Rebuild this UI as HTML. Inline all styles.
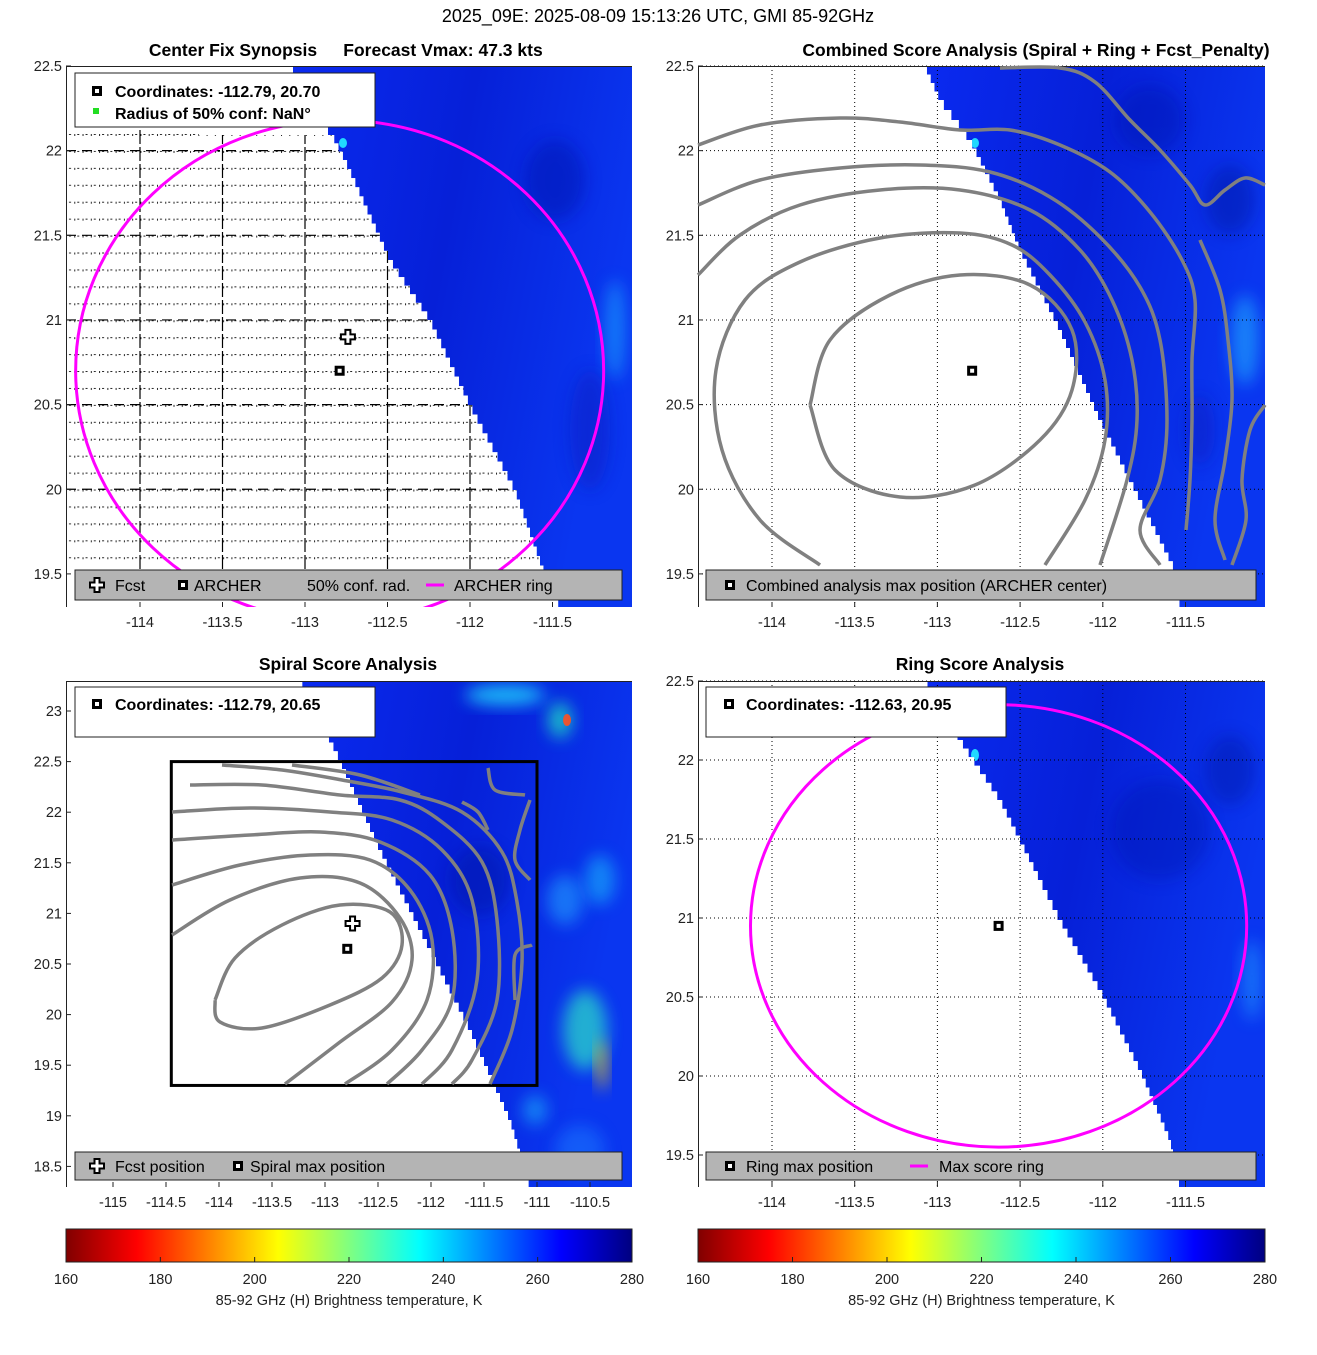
<!DOCTYPE html>
<html><head><meta charset="utf-8"><style>
body{margin:0;background:#fff}
svg text{font-family:"Liberation Sans","DejaVu Sans",sans-serif}
</style></head><body>
<svg id="fig" width="1317" height="1350" viewBox="0 0 1317 1350" xmlns="http://www.w3.org/2000/svg">
<defs>
<linearGradient id="jet" x1="0" x2="1" y1="0" y2="0">
<stop offset="0" stop-color="#800000"/><stop offset="0.125" stop-color="#ff0000"/>
<stop offset="0.375" stop-color="#ffff00"/><stop offset="0.5" stop-color="#80ff80"/><stop offset="0.625" stop-color="#00ffff"/>
<stop offset="0.875" stop-color="#0000ff"/><stop offset="1" stop-color="#000080"/>
</linearGradient>
<linearGradient id="bluefield" x1="0" x2="1" y1="0" y2="0.3">
<stop offset="0" stop-color="#0a2af0"/><stop offset="0.5" stop-color="#0620d8"/><stop offset="1" stop-color="#0a36f0"/>
</linearGradient>
<filter id="blur" x="-50%" y="-50%" width="200%" height="200%"><feGaussianBlur stdDeviation="8"/></filter>
<pattern id="dots" width="8.27" height="16.93" patternUnits="userSpaceOnUse" x="66" y="134">
<rect x="0" y="0" width="1" height="2" fill="#222"/><rect x="3" y="0" width="2" height="1" fill="#222"/>
</pattern>
</defs>
<text x="658" y="22" font-size="18" text-anchor="middle">2025_09E: 2025-08-09 15:13:26 UTC, GMI 85-92GHz</text>
<g id="root"></g>
</svg>
<script>
// ---- data ----
const xTicksTop = [-114,-113.5,-113,-112.5,-112,-111.5];
const yTicksTop = [22.5,22,21.5,21,20.5,20,19.5];
const xTicksBL = [-115,-114.5,-114,-113.5,-113,-112.5,-112,-111.5,-111,-110.5];
const yTicksBL = [23,22.5,22,21.5,21,20.5,20,19.5,19,18.5];
const xTicksBR = [-114,-113.5,-113,-112.5,-112,-111.5];
const yTicksBR = [22.5,22,21.5,21,20.5,20,19.5];
const cbTicks = [160,180,200,220,240,260,280];
const archerCenter = [-112.79, 20.70];
const fcstPos = [-112.74, 20.90];
const spiralMax = [-112.79, 20.65];
const ringMax = [-112.63, 20.95];
const ringRadiusDeg = [1.6, 1.48];
const maxRingRadiusDeg = [1.5, 1.4];
const spiralBox = [-114.45, -111.0, 19.3, 22.5];

const NS="http://www.w3.org/2000/svg";
const root=document.getElementById('root');
function el(tag,attrs,parent){const e=document.createElementNS(NS,tag);for(const k in attrs)e.setAttribute(k,attrs[k]);(parent||root).appendChild(e);return e;}
function txt(s,attrs,parent){const e=el('text',attrs,parent);e.textContent=s;return e;}

const panels={
 TL:{x0:66,x1:632,y0:66,y1:607,X:l=>140+(l+114)*165,Y:a=>66+(22.5-a)*169.3},
 TR:{x0:698,x1:1265,y0:66,y1:607,X:l=>772+(l+114)*165.4,Y:a=>66+(22.5-a)*169.3},
 BL:{x0:66,x1:632,y0:681,y1:1187,X:l=>113+(l+115)*106,Y:a=>711+(23-a)*101.2},
 BR:{x0:698,x1:1265,y0:681,y1:1187,X:l=>772+(l+114)*165.4,Y:a=>681+(22.5-a)*158}
};
function pts(a){return a.map(p=>p.join(',')).join(' ');}
function smooth(a){let d='M'+a[0][0]+','+a[0][1];for(let i=1;i<a.length;i++){const p0=a[i-1],p1=a[i];const pm=a[i-2]||p0,pn=a[i+1]||p1;
 const c1=[p0[0]+(p1[0]-pm[0])/6,p0[1]+(p1[1]-pm[1])/6],c2=[p1[0]-(pn[0]-p0[0])/6,p1[1]-(pn[1]-p0[1])/6];
 d+=' C'+c1.join(',')+' '+c2.join(',')+' '+p1.join(',');}return d;}

function field(P,name,poly,patches){
 const g=el('g',{});
 const cid='clip'+name;const cp=el('clipPath',{id:cid},g);el('polygon',{points:pts(poly)},cp);
 const gg=el('g',{'clip-path':'url(#'+cid+')'},g);
 el('polygon',{points:pts(poly),fill:'url(#bluefield)'},gg);
 patches.forEach(p=>el('ellipse',{cx:p[0],cy:p[1],rx:p[2],ry:p[3],fill:p[4],opacity:p[5]||0.8,filter:p[6]===0?'':'url(#blur)'},gg));
 return g;
}
function stair(pointsList,right,top,bottom){
 const out=[[right,top]];const first=pointsList[0];out.push([first[0],top]);
 for(let i=0;i<pointsList.length-1;i++){const a=pointsList[i],b=pointsList[i+1];const n=Math.max(1,Math.round((b[1]-a[1])/9));
  for(let k=0;k<n;k++){const y1=a[1]+(b[1]-a[1])*(k+1)/n;const x=a[0]+(b[0]-a[0])*(k+0.5)/n;out.push([x,a[1]+(b[1]-a[1])*k/n]);out.push([x,y1]);}}
 const last=pointsList[pointsList.length-1];out.push([last[0],bottom]);out.push([right,bottom]);return out;}

function axesFrame(P,name,xt,yt,grid){
 const g=el('g',{});
 if(grid==='dotted'){
  xt.forEach(v=>{const x=P.X(v);const l=el('line',{x1:x,x2:x,y1:P.y0,y2:P.y1,stroke:'#000','stroke-width':1,'stroke-dasharray':'1,3'},g);});
  yt.forEach(v=>{const y=P.Y(v);const l=el('line',{x1:P.x0,x2:P.x1,y1:y,y2:y,stroke:'#000','stroke-width':1,'stroke-dasharray':'1,3'},g);});
 }
 el('line',{x1:P.x0+0.5,x2:P.x0+0.5,y1:P.y0,y2:P.y1,stroke:'#222','stroke-width':1},g);
 el('line',{x1:P.x0,x2:P.x1,y1:P.y0+0.5,y2:P.y0+0.5,stroke:'#222','stroke-width':1},g);
 xt.forEach(v=>{const x=P.X(v);el('line',{x1:x,x2:x,y1:P.y1,y2:P.y1-5,stroke:'#222'},g);
  const t=txt(String(v),{x:x,y:P.y1+20,'font-size':14.5,'text-anchor':'middle',fill:'#222'},g);});
 yt.forEach(v=>{const y=P.Y(v);el('line',{x1:P.x0,x2:P.x0+5,y1:y,y2:y,stroke:'#222'},g);
  const t=txt(String(v),{x:P.x0-4,y:y+5,'font-size':14.5,'text-anchor':'end',fill:'#222'},g);});
}
function sqMarker(x,y,name){const g=el('g',{});
 el('rect',{x:x-5,y:y-5,width:10,height:10,fill:'#000'},g);el('rect',{x:x-2,y:y-2,width:4,height:4,fill:'#fff'},g);return g;}
function crossMarker(x,y,name){const g=el('g',{});
 el('path',{d:`M${x-2.5},${y-7}h5v4.5h4.5v5h-4.5v4.5h-5v-4.5h-4.5v-5h4.5z`,fill:'#fff',stroke:'#000','stroke-width':2},g);return g;}
function contours(list,name){const g=el('g',{});
 list.forEach(c=>{const p=el('path',{d:smooth(c),fill:'none',stroke:'#808080','stroke-width':3.5,'stroke-linejoin':'round'},g);});return g;}
function legendBox(x,y,w,h,fill,name){return el('rect',{x:x,y:y,width:w,height:h,fill:fill,stroke:'#222','stroke-width':1,});}
function title(s,x,y,name){const t=txt(s,{x:x,y:y,'font-size':17.5,'font-weight':'bold','text-anchor':'middle'});}

// ===== TL =====
let P=panels.TL;
field(P,'tl-brightness-field',stair([[292,66],[300,100],[332,135],[345,160],[390,260],[430,320],[470,405],[515,490],[545,575],[560,607]],632,66,607),
 [[555,180,30,40,'#0414b0',0.5],[615,330,10,50,'#1aa8ff',0.6],[590,430,20,60,'#0a1cc0',0.5],[343,143,4,5,'#20d8ff',1,0]]);
(function(){const g=el('g',{});
 const cp=el('clipPath',{id:'tlwhite'},g);el('polygon',{points:pts(stair([[66,130],[332,135],[345,160],[390,260],[430,320],[470,405],[515,490],[545,575],[545,570]],66,130,570))},cp);
 const gg=el('g',{'clip-path':'url(#tlwhite)'},g);
 el('rect',{x:66,y:130,width:500,height:440,fill:'url(#dots)'},gg);
 xTicksTop.forEach(v=>{const x=P.X(v);el('line',{x1:x,x2:x,y1:130,y2:570,stroke:'#000','stroke-width':1.2,'stroke-dasharray':'14,3'},gg);});
 yTicksTop.forEach(v=>{const y=P.Y(v);el('line',{x1:66,x2:632,y1:y,y2:y,stroke:'#000','stroke-width':1.2,'stroke-dasharray':'10,6'},gg);});
})();
axesFrame(P,'tl',xTicksTop,yTicksTop,'none');
(function(){const cp=el('clipPath',{id:'tlc'});el('rect',{x:66,y:66,width:566,height:541},cp);
 const e=el('ellipse',{cx:P.X(archerCenter[0]),cy:P.Y(archerCenter[1]),rx:ringRadiusDeg[0]*165,ry:ringRadiusDeg[1]*169.3,fill:'none',stroke:'#ff00ff','stroke-width':3,'clip-path':'url(#tlc)'});
 })();
sqMarker(P.X(archerCenter[0]),P.Y(archerCenter[1]),'archer-center-marker');
crossMarker(P.X(fcstPos[0]),P.Y(fcstPos[1]),'fcst-marker');
legendBox(75,73,300,54,'#fff','tl-info-legend');
sqMarker(97,91,'legend-coord-icon');
txt('Coordinates: -112.79, 20.70',{x:115,y:97,'font-size':16,'font-weight':'bold',});
el('rect',{x:93,y:108,width:6,height:6,fill:'#22dd22',});
txt('Radius of 50% conf: NaN°',{x:115,y:119,'font-size':16,'font-weight':'bold',});
legendBox(75,570,547,30,'#b4b4b4','tl-bottom-legend');
crossMarker(97,585,'legend-fcst-icon');
txt('Fcst',{x:115,y:591,'font-size':16});
sqMarker(183,585,'legend-archer-icon');
txt('ARCHER',{x:194,y:591,'font-size':16});
txt('50% conf. rad.',{x:307,y:591,'font-size':16});
el('line',{x1:426,x2:444,y1:585,y2:585,stroke:'#ff00ff','stroke-width':3});
txt('ARCHER ring',{x:454,y:591,'font-size':16});
title('Center Fix Synopsis',233,56,'tl-title');
title('Forecast Vmax: 47.3 kts',443,56,'tl-title-vmax');

// ===== TR =====
P=panels.TR;
field(P,'tr-brightness-field',stair([[925,66],[940,100],[970,140],[1000,200],[1020,250],[1060,330],[1100,420],[1140,500],[1175,570],[1180,607]],1265,66,607),
 [[1245,340,14,45,'#20b0ff',0.6],[1150,120,35,35,'#0414b0',0.45],[1230,200,25,35,'#0612a0',0.45],[975,143,4,5,'#20d8ff',1,0],[1200,430,15,35,'#0a1cc0',0.5]]);
axesFrame(P,'tr',xTicksTop,yTicksTop,'dotted');
contours([
 [[810,405],[830,340],[890,295],[960,275],[1030,285],[1072,330],[1072,390],[1040,440],[975,485],[900,497],[835,470],[810,405]],
 [[820,565],[760,520],[722,450],[716,370],[745,300],[800,262],[880,238],[960,233],[1012,245],[1050,275],[1085,322],[1105,380],[1105,440],[1085,500],[1045,565]],
 [[698,275],[740,235],[800,205],[880,190],[960,190],[1030,210],[1080,250],[1112,300],[1132,360],[1137,420],[1127,480],[1100,565]],
 [[698,205],[760,180],[840,168],[920,165],[990,172],[1050,197],[1100,237],[1140,287],[1160,340],[1167,420],[1160,480],[1140,530],[1160,565]],
 [[698,145],[760,125],[840,118],[900,122],[960,130],[1010,130],[1060,145],[1110,172],[1150,212],[1182,260],[1195,300],[1192,360],[1192,420],[1190,480],[1186,530]],
 [[1000,68],[1060,68],[1095,82],[1130,120],[1160,150],[1190,185],[1205,205],[1225,190],[1245,178],[1265,185]],
 [[1200,240],[1220,290],[1228,340],[1232,400],[1225,460],[1215,520],[1225,560]],
 [[1265,405],[1250,430],[1242,480],[1246,520],[1232,565]]
],'tr-score-contours');
sqMarker(P.X(archerCenter[0]),P.Y(archerCenter[1]),'combined-max-marker');
legendBox(706,570,550,30,'#b4b4b4','tr-bottom-legend');
sqMarker(730,585,'legend-combined-icon');
txt('Combined analysis max position (ARCHER center)',{x:746,y:591,'font-size':16});
title('Combined Score Analysis (Spiral + Ring + Fcst_Penalty)',1036,56,'tr-title');

// ===== BL =====
P=panels.BL;
field(P,'bl-brightness-field',stair([[300,681],[340,760],[380,850],[420,930],[470,1030],[510,1120],[530,1187]],632,681,1187),
 [[505,695,40,10,'#20e0ff',0.8],[560,720,12,18,'#20f0c0',0.7],[567,720,4,6,'#ff5020',0.9,0],[585,1030,22,40,'#30ffc0',0.6],[602,1065,5,25,'#ffd000',0.8],[565,900,18,25,'#20a0ff',0.6],[600,880,15,25,'#1ad0ff',0.5],[480,880,30,35,'#0612a0',0.45],[535,1110,12,15,'#20d0ff',0.5],[580,1150,25,25,'#1a80ff',0.5]]);
axesFrame(P,'bl',xTicksBL,yTicksBL,'none');
const bx0=P.X(spiralBox[0]),bx1=P.X(spiralBox[1]),by0=P.Y(spiralBox[3]),by1=P.Y(spiralBox[2]);
el('rect',{x:bx0,y:by0,width:bx1-bx0,height:by1-by0,fill:'none',stroke:'#000','stroke-width':3,});
contours([
 [[215,1000],[235,958],[282,925],[340,905],[390,912],[402,945],[382,978],[330,1005],[262,1028],[220,1022],[215,1000]],
 [[172,935],[230,900],[300,878],[360,883],[400,918],[412,960],[392,1002],[340,1042],[285,1084]],
 [[172,885],[240,865],[310,855],[370,860],[410,890],[432,940],[427,1000],[392,1050],[345,1084]],
 [[172,840],[250,835],[320,832],[380,842],[430,875],[452,930],[452,1000],[422,1050],[387,1084]],
 [[172,812],[250,808],[330,812],[392,820],[442,850],[472,900],[477,980],[452,1050],[422,1084]],
 [[190,785],[262,785],[340,795],[400,800],[442,822],[482,862],[497,920],[497,1000],[472,1060],[452,1084]],
 [[222,765],[282,770],[342,780],[402,792],[462,812],[502,852],[517,902],[522,962],[512,1030],[490,1084]],
 [[292,765],[360,775],[420,795]],
 [[462,802],[478,812],[488,830]],
 [[488,768],[495,790],[525,795]],
 [[530,800],[520,830],[515,860],[530,880]],
 [[532,945],[515,955],[515,1000]]
],'bl-spiral-contours');
sqMarker(P.X(spiralMax[0]),P.Y(spiralMax[1]),'spiral-max-marker');
crossMarker(P.X(fcstPos[0]),P.Y(fcstPos[1]),'bl-fcst-marker');
legendBox(75,687,300,50,'#fff','bl-info-legend');
sqMarker(97,704,'bl-legend-coord-icon');
txt('Coordinates: -112.79, 20.65',{x:115,y:710,'font-size':16,'font-weight':'bold'});
legendBox(75,1152,547,28,'#b4b4b4','bl-bottom-legend');
crossMarker(97,1166,'bl-legend-fcst-icon');
txt('Fcst position',{x:115,y:1172,'font-size':16});
sqMarker(238,1166,'bl-legend-spiral-icon');
txt('Spiral max position',{x:250,y:1172,'font-size':16});
title('Spiral Score Analysis',348,670,'bl-title');

// ===== BR =====
P=panels.BR;
field(P,'br-brightness-field',stair([[925,681],[960,740],[1000,800],[1040,880],[1060,920],[1100,990],[1140,1070],[1170,1140],[1180,1187]],1265,681,1187),
 [[975,755,4,6,'#20d8ff',1,0],[1160,830,50,50,'#0414b0',0.4],[1252,980,10,40,'#20a0ff',0.55],[1230,770,25,35,'#0612a0',0.4]]);
axesFrame(P,'br',xTicksBR,yTicksBR,'dotted');
(function(){const cp=el('clipPath',{id:'brc'});el('rect',{x:698,y:681,width:567,height:506},cp);
 const e=el('ellipse',{cx:P.X(ringMax[0]),cy:P.Y(ringMax[1]),rx:maxRingRadiusDeg[0]*165.4,ry:maxRingRadiusDeg[1]*158,fill:'none',stroke:'#ff00ff','stroke-width':3,'clip-path':'url(#brc)'});
 })();
sqMarker(P.X(ringMax[0]),P.Y(ringMax[1]),'ring-max-marker');
legendBox(706,687,300,50,'#fff','br-info-legend');
sqMarker(729,704,'br-legend-coord-icon');
txt('Coordinates: -112.63, 20.95',{x:746,y:710,'font-size':16,'font-weight':'bold'});
legendBox(706,1152,550,28,'#b4b4b4','br-bottom-legend');
sqMarker(730,1166,'br-legend-ring-icon');
txt('Ring max position',{x:746,y:1172,'font-size':16});
el('line',{x1:910,x2:928,y1:1166,y2:1166,stroke:'#ff00ff','stroke-width':3});
txt('Max score ring',{x:939,y:1172,'font-size':16});
title('Ring Score Analysis',980,670,'br-title');

// ===== colorbars =====
[[66,632,'left'],[698,1265,'right']].forEach(([a,b,n])=>{
 const g=el('g',{});
 el('rect',{x:a,y:1229,width:b-a,height:33,fill:'url(#jet)',stroke:'#222'},g);
 cbTicks.forEach(v=>{const x=a+(v-160)/120*(b-a);el('line',{x1:x,x2:x,y1:1262,y2:1257,stroke:'#222'},g);
  const t=txt(String(v),{x:x,y:1284,'font-size':14.5,'text-anchor':'middle',fill:'#222'},g);});
 txt('85-92 GHz (H) Brightness temperature, K',{x:(a+b)/2,y:1305,'font-size':14.5,'text-anchor':'middle',fill:'#222',},g);
});
</script>
</body></html>
